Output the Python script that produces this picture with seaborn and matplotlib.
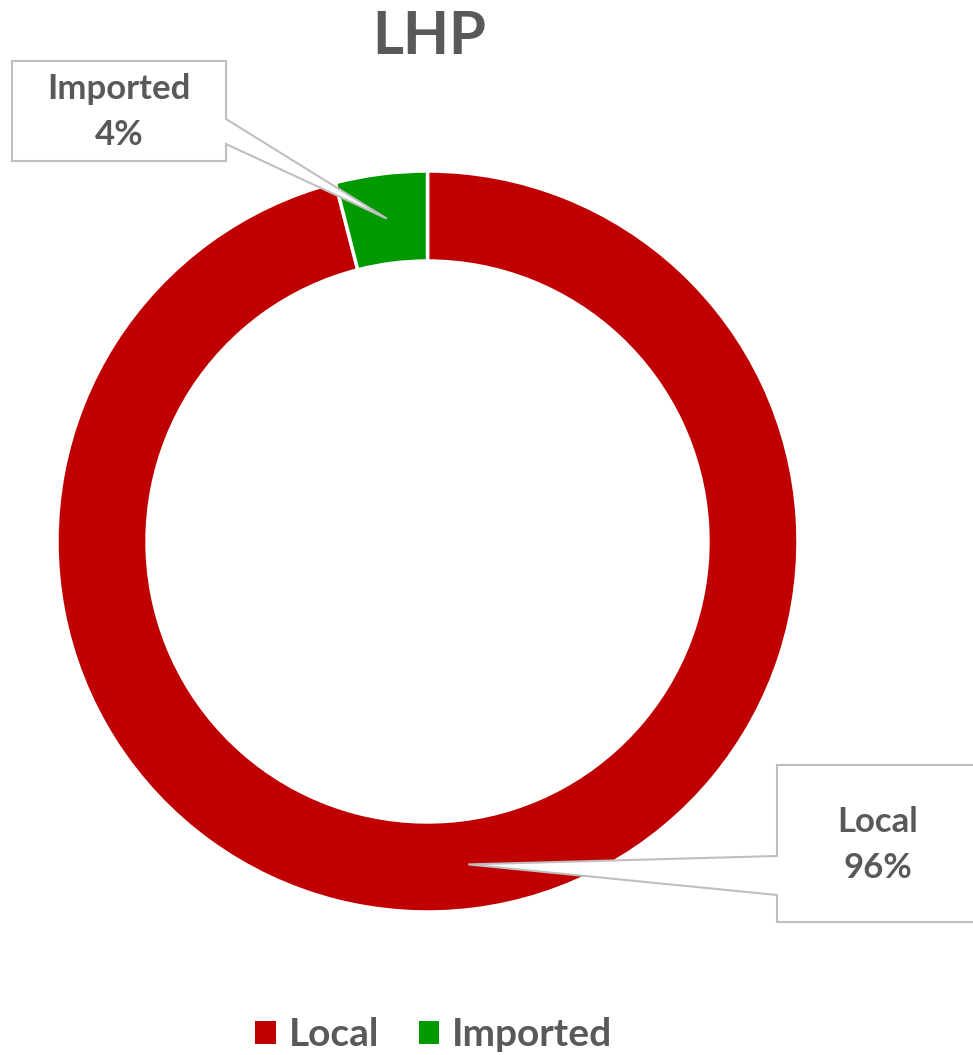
import matplotlib.pyplot as plt
import seaborn as sns
import numpy as np
from matplotlib.patches import Polygon, Patch

categories = ['Local', 'Imported']
values = [96, 4]
colors = ['#C00000', '#009900']
title = 'LHP'

sns.set_theme(style='white')
plt.rcParams['font.family'] = ['Lato', 'DejaVu Sans']
text_color = '#595959'

W, H = 973, 1055
fig = plt.figure(figsize=(W / 100, H / 100), dpi=100)

# pie axes: centre (427.5, 541.5) px, radius 370.5 px
cx, cy, R = 427.5, 541.5, 370.5
ax = fig.add_axes([(cx - R) / W, (H - cy - R) / H, 2 * R / W, 2 * R / H])
wedges, _ = ax.pie(values, colors=colors, startangle=90, counterclock=False,
                   radius=1, wedgeprops=dict(width=0.243, edgecolor='white', linewidth=2.5))
ax.set_xlim(-1, 1)
ax.set_ylim(-1, 1)
ax.set_aspect('equal')
ax.axis('off')

fig.text(429 / W, 1 - 37 / H, title, ha='center', va='center', fontsize=43,
         fontweight='bold', color=text_color)


def px_to_fig(x, y):
    return (x / W, 1 - y / H)


def data_to_px(xd, yd):
    disp = ax.transData.transform((xd, yd))
    return disp[0], H - disp[1]


total = sum(values)
# callout boxes: (left, top, right, bottom, attach y1, attach y2, text centre x, text centre y)
boxes = {
    'Imported': (12, 61, 226, 161, 119, 144, 119, 112),
    'Local': (777, 765, 985, 922, 856, 895, 878, 845),
}
for w, cat, val in zip(wedges, categories, values):
    mid = np.deg2rad((w.theta1 + w.theta2) / 2)
    rmid = 1 - 0.243 / 2
    tx, ty = data_to_px(rmid * np.cos(mid), rmid * np.sin(mid))
    l, t, r, b, a1, a2, txc, tyc = boxes[cat]
    if tx > r:
        pts = [(l, t), (r, t), (r, a1), (tx, ty), (r, a2), (r, b), (l, b)]
    else:
        pts = [(l, t), (r, t), (r, b), (l, b), (l, a2), (tx, ty), (l, a1)]
    poly = Polygon([px_to_fig(*p) for p in pts], closed=True, transform=fig.transFigure,
                   facecolor='white', edgecolor='#BFBFBF', linewidth=1.5, zorder=5)
    fig.add_artist(poly)
    fig.text(*px_to_fig(txc, tyc), f"{cat}\n{val / total:.0%}", ha='center', va='center',
             fontsize=25, fontweight='bold', color=text_color, linespacing=1.55, zorder=6)

handles = [Patch(facecolor=c, edgecolor='none') for c in colors]
fig.legend(handles, categories, loc='center', bbox_to_anchor=(434 / W, 1 - 1035 / H),
           ncol=2, frameon=False, handlelength=0.52, handleheight=0.52,
           handletextpad=0.35, columnspacing=1.0, labelcolor=text_color,
           prop=dict(weight='bold', size=28))

fig.savefig('out.png', dpi=100)
